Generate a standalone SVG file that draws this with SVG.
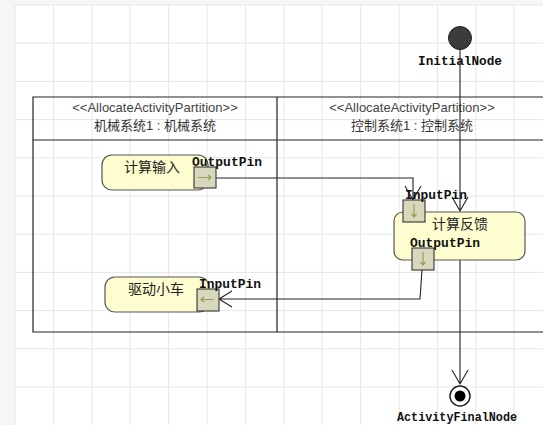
<svg xmlns="http://www.w3.org/2000/svg" width="543" height="425" viewBox="0 0 543 425">
<defs>
<style>
.grid line{stroke:#e6e6e6;stroke-width:1}
.frame{stroke:#222;stroke-width:1.2;fill:none}
.hdr{font-family:"Liberation Sans",Arial,sans-serif;font-size:13px;fill:#444;text-anchor:middle}
.hdrcn{font-family:"Liberation Sans","Noto Sans CJK SC",sans-serif;font-size:13px;fill:#333;text-anchor:middle}
.act{fill:#fefdcf;stroke:#555;stroke-width:1.2}
.actt{font-family:"Noto Sans CJK SC",sans-serif;font-size:14px;fill:#222;text-anchor:middle}
.pin{fill:#d8d8bc;stroke:#333;stroke-width:1.1}
.pa{stroke:#9c9c5c;stroke-width:1.2;fill:none}
.lbl{font-family:"Liberation Mono","DejaVu Sans Mono",monospace;font-size:13px;font-weight:bold;fill:#111}
.edge{stroke:#222;stroke-width:1.1;fill:none}
</style>
</defs>
<rect x="0" y="0" width="543" height="425" fill="#ffffff"/>
<rect x="0" y="0" width="15" height="425" fill="#f6f6f6"/>
<rect x="0" y="0" width="543" height="5" fill="#f6f6f6"/>
<g class="grid">
<line x1="15" y1="5" x2="15" y2="425"/>
<line x1="53.4" y1="5" x2="53.4" y2="425"/>
<line x1="91.8" y1="5" x2="91.8" y2="425"/>
<line x1="130.2" y1="5" x2="130.2" y2="425"/>
<line x1="168.6" y1="5" x2="168.6" y2="425"/>
<line x1="207" y1="5" x2="207" y2="425"/>
<line x1="245.4" y1="5" x2="245.4" y2="425"/>
<line x1="283.8" y1="5" x2="283.8" y2="425"/>
<line x1="322.2" y1="5" x2="322.2" y2="425"/>
<line x1="360.6" y1="5" x2="360.6" y2="425"/>
<line x1="399" y1="5" x2="399" y2="425"/>
<line x1="437.4" y1="5" x2="437.4" y2="425"/>
<line x1="475.8" y1="5" x2="475.8" y2="425"/>
<line x1="514.2" y1="5" x2="514.2" y2="425"/>
<line x1="15" y1="5" x2="543" y2="5"/>
<line x1="15" y1="43.2" x2="543" y2="43.2"/>
<line x1="15" y1="81.4" x2="543" y2="81.4"/>
<line x1="15" y1="119.6" x2="543" y2="119.6"/>
<line x1="15" y1="157.8" x2="543" y2="157.8"/>
<line x1="15" y1="196" x2="543" y2="196"/>
<line x1="15" y1="234.2" x2="543" y2="234.2"/>
<line x1="15" y1="272.4" x2="543" y2="272.4"/>
<line x1="15" y1="310.6" x2="543" y2="310.6"/>
<line x1="15" y1="348.8" x2="543" y2="348.8"/>
<line x1="15" y1="387" x2="543" y2="387"/>
</g>
<g id="partitions">
<path class="frame" d="M545,97 H33 V332 H545 M33,140 H545 M277,97 V332"/>
<text class="hdr" x="155" y="112">&lt;&lt;AllocateActivityPartition&gt;&gt;</text>
<text class="hdrcn" x="155" y="130">机械系统1 : 机械系统</text>
<text class="hdr" x="412" y="112">&lt;&lt;AllocateActivityPartition&gt;&gt;</text>
<text class="hdrcn" x="412" y="130">控制系统1 : 控制系统</text>
</g>
<g id="connectors">
<path class="edge" d="M460,49 V211 M452,197 L460,211 L468,197"/>
<path class="edge" d="M460,260 V384 M452,370 L460,384 L468,370"/>
<path class="edge" d="M216,178 H413 V200 M405,186 L413,200 L421,186"/>
<path class="edge" d="M422,270 L420,299 H219 M232,291 L219,299 L232,307"/>
</g>
<g id="InitialNode">
<circle cx="460" cy="38" r="11.5" fill="#3c3c3c" stroke="#222" stroke-width="1"/>
<text class="lbl" x="460" y="65" text-anchor="middle" textLength="84" lengthAdjust="spacingAndGlyphs">InitialNode</text>
</g>
<g id="ActivityFinalNode">
<circle cx="460" cy="396" r="10" fill="#fff" stroke="#222" stroke-width="1.5"/>
<circle cx="460" cy="396" r="5.5" fill="#000"/>
<text class="lbl" x="457" y="421" text-anchor="middle" textLength="120" lengthAdjust="spacingAndGlyphs">ActivityFinalNode</text>
</g>
<g id="计算输入">
<rect class="act" x="102" y="155" width="106" height="35" rx="10"/>
<text class="actt" x="152" y="172">计算输入</text>
<rect class="pin" x="194" y="167" width="22" height="21"/>
<path class="pa" d="M198,177.5 H211 M208,175 L211,177.5 L208,180"/>
<text class="lbl" x="192" y="166" textLength="70" lengthAdjust="spacingAndGlyphs">OutputPin</text>
</g>
<g id="驱动小车">
<rect class="act" x="105" y="277" width="104" height="35" rx="10"/>
<text class="actt" x="156" y="294">驱动小车</text>
<rect class="pin" x="197" y="289" width="22" height="22"/>
<path class="pa" d="M214,299.5 H201 M204,297 L201,299.5 L204,302"/>
<text class="lbl" x="199" y="288" textLength="62" lengthAdjust="spacingAndGlyphs">InputPin</text>
</g>
<g id="计算反馈">
<rect class="act" x="394" y="212" width="131" height="48" rx="9"/>
<text class="actt" x="460" y="229">计算反馈</text>
<rect class="pin" x="403" y="200" width="22" height="22"/>
<path class="pa" d="M414,204 V217 M411.5,214 L414,217 L416.5,214"/>
<text class="lbl" x="405" y="199" textLength="62" lengthAdjust="spacingAndGlyphs">InputPin</text>
<rect class="pin" x="412" y="248" width="22" height="22"/>
<path class="pa" d="M423,252 V265 M420.5,262 L423,265 L425.5,262"/>
<text class="lbl" x="410" y="247" textLength="70" lengthAdjust="spacingAndGlyphs">OutputPin</text>
</g>
</svg>
